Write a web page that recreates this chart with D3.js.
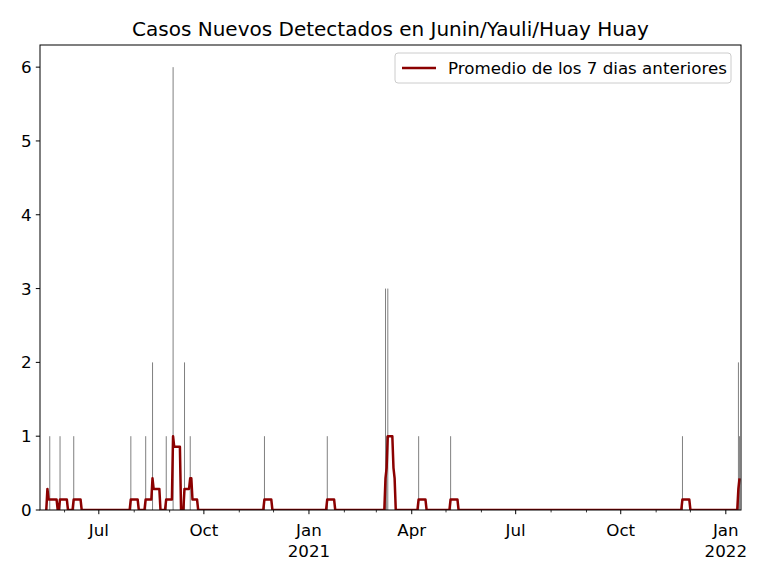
<!DOCTYPE html>
<html>
<head>
<meta charset="utf-8">
<script src="https://cdn.jsdelivr.net/npm/d3@7"></script>
<style>
  html, body { margin: 0; padding: 0; background: #fff; }
  svg { display: block; font-family: "DejaVu Sans", sans-serif; }
</style>
</head>
<body>
<svg id="chart" width="768" height="576"></svg>
<script>
// Daily new cases (only the days with at least one case)
const caseDates = ["2020-05-19","2020-05-28","2020-06-09","2020-07-29","2020-08-11","2020-08-17",
  "2020-08-29","2020-09-04","2020-09-14","2020-09-19","2020-11-23","2021-01-17",
  "2021-03-09","2021-03-10","2021-03-11","2021-04-07","2021-05-05","2021-11-24",
  "2022-01-12","2022-01-13"];
const caseCounts = [1,1,1,1,1,2,1,6,2,1,1,1,3,1,3,1,1,1,2,1];

// 7-day trailing average, listed at the days where the line changes direction
const avgDates = ["2020-05-16","2020-05-17","2020-05-18","2020-05-25","2020-05-26","2020-05-27",
  "2020-05-28","2020-06-03","2020-06-04","2020-06-08","2020-06-09","2020-06-15","2020-06-16",
  "2020-07-28","2020-07-29","2020-08-04","2020-08-05","2020-08-10","2020-08-11","2020-08-16",
  "2020-08-17","2020-08-18","2020-08-23","2020-08-24","2020-08-28","2020-08-29","2020-09-03",
  "2020-09-04","2020-09-05","2020-09-10","2020-09-11","2020-09-13","2020-09-14","2020-09-18",
  "2020-09-19","2020-09-20","2020-09-21","2020-09-25","2020-09-26","2020-11-22","2020-11-23",
  "2020-11-29","2020-11-30","2021-01-16","2021-01-17","2021-01-23","2021-01-24","2021-03-08",
  "2021-03-09","2021-03-10","2021-03-11","2021-03-15","2021-03-16","2021-03-17","2021-03-18",
  "2021-04-06","2021-04-07","2021-04-13","2021-04-14","2021-05-04","2021-05-05","2021-05-11",
  "2021-05-12","2021-11-23","2021-11-24","2021-11-30","2021-12-01","2022-01-11","2022-01-12",
  "2022-01-13"];
const avgValues = [0,0.286,0.143,0.143,0,0,
  0.143,0.143,0,0,0.143,0.143,0,
  0,0.143,0.143,0,0,0.143,0.143,
  0.429,0.286,0.286,0,0,0.143,0.143,
  1,0.857,0.857,0,0,0.286,0.286,
  0.429,0.429,0.143,0.143,0,0,0.143,
  0.143,0,0,0.143,0.143,0,0,
  0.429,0.571,1,1,0.571,0.429,0,
  0,0.143,0.143,0,0,0.143,0.143,
  0,0,0.143,0.143,0,0,0.286,
  0.429];

// Axis labels
const yTicks = [0,1,2,3,4,5,6];
const majorTickDates = ["2020-07-01","2020-10-01","2021-01-01","2021-04-01","2021-07-01","2021-10-01","2022-01-01"];
const majorTickLabels = ["Jul","Oct","Jan","Apr","Jul","Oct","Jan"];
const majorTickYears = ["","","2021","","","","2022"];

const titleText = "Casos Nuevos Detectados en Junin/Yauli/Huay Huay";
const legendText = "Promedio de los 7 dias anteriores";

const parse = d3.utcParse("%Y-%m-%d");
const DAY = 864e5;
const FS = 16.7;      // tick / legend font size
const TITLE_FS = 20;  // title font size

const margin = {left: 40, right: 27, top: 45, bottom: 66};
const W = 768, H = 576;
const plotW = W - margin.left - margin.right;
const plotH = H - margin.top - margin.bottom;

const svg = d3.select("#chart");
const g = svg.append("g").attr("transform", `translate(${margin.left},${margin.top})`);

const x = d3.scaleUtc()
  .domain([new Date(Date.UTC(2020, 4, 10, 12)), new Date(Date.UTC(2022, 0, 14, 7))])
  .range([0, plotW]);
const y = d3.scaleLinear().domain([0, 6.3]).range([plotH, 0]);

const bars = caseDates.map((d, i) => ({date: parse(d), value: caseCounts[i]}));
const avg = avgDates.map((d, i) => ({date: parse(d), value: avgValues[i]}));

// clip to the plot area
svg.append("defs").append("clipPath").attr("id", "clip")
  .append("rect").attr("width", plotW).attr("height", plotH);

const plot = g.append("g").attr("clip-path", "url(#clip)");

// daily bars (0.8 day wide)
plot.selectAll("rect.bar").data(bars).enter().append("rect")
  .attr("class", "bar")
  .attr("x", d => x(new Date(+d.date - 0.4 * DAY)))
  .attr("width", d => Math.max(1, x(new Date(+d.date + 0.4 * DAY)) - x(new Date(+d.date - 0.4 * DAY))))
  .attr("y", d => y(d.value))
  .attr("height", d => y(0) - y(d.value))
  .attr("fill", "#808080");

// rolling average line
plot.append("path")
  .datum(avg)
  .attr("fill", "none")
  .attr("stroke", "#8b0000")
  .attr("stroke-width", 2.5)
  .attr("stroke-linejoin", "round")
  .attr("d", d3.line().x(d => x(d.date)).y(d => y(d.value)));

// frame
g.append("rect").attr("width", plotW).attr("height", plotH)
  .attr("fill", "none").attr("stroke", "#000").attr("stroke-width", 1);

// y axis
const yAxis = g.append("g");
yTicks.forEach(t => {
  yAxis.append("line").attr("x1", -4.2).attr("x2", 0)
    .attr("y1", y(t)).attr("y2", y(t)).attr("stroke", "#000").attr("stroke-width", 1);
  yAxis.append("text").attr("x", -8.4).attr("y", y(t)).attr("dy", "0.36em")
    .attr("text-anchor", "end").attr("font-size", FS + "px").attr("fill", "#000").text(t);
});

// x axis: monthly minor ticks, quarterly labelled ticks
const xAxis = g.append("g").attr("transform", `translate(0,${plotH})`);
const months = d3.utcMonth.range(x.domain()[0], x.domain()[1]);
const majorSet = new Set(majorTickDates);
const fmt = d3.utcFormat("%Y-%m-%d");
months.forEach(m => {
  if (majorSet.has(fmt(m))) return;
  xAxis.append("line").attr("x1", x(m)).attr("x2", x(m)).attr("y1", 0).attr("y2", 2.4)
    .attr("stroke", "#000").attr("stroke-width", 0.8);
});
majorTickDates.forEach((d, i) => {
  const px = x(parse(d));
  xAxis.append("line").attr("x1", px).attr("x2", px).attr("y1", 0).attr("y2", 4.2)
    .attr("stroke", "#000").attr("stroke-width", 1);
  xAxis.append("text").attr("x", px).attr("y", 26).attr("text-anchor", "middle")
    .attr("font-size", FS + "px").attr("fill", "#000").text(majorTickLabels[i]);
  if (majorTickYears[i]) {
    xAxis.append("text").attr("x", px).attr("y", 46.5).attr("text-anchor", "middle")
      .attr("font-size", FS + "px").attr("fill", "#000").text(majorTickYears[i]);
  }
});

// title
svg.append("text").attr("x", margin.left + plotW / 2).attr("y", 36)
  .attr("text-anchor", "middle").attr("font-size", TITLE_FS + "px").attr("fill", "#000")
  .text(titleText);

// legend
const lg = g.append("g").attr("transform", `translate(${plotW - 346},8)`);
lg.append("rect").attr("width", 336).attr("height", 30).attr("rx", 3)
  .attr("fill", "#fff").attr("fill-opacity", 0.8)
  .attr("stroke", "#cccccc").attr("stroke-width", 1);
lg.append("line").attr("x1", 7).attr("x2", 41).attr("y1", 15).attr("y2", 15)
  .attr("stroke", "#8b0000").attr("stroke-width", 2.5);
lg.append("text").attr("x", 53).attr("y", 15).attr("dy", "0.36em")
  .attr("font-size", FS + "px").attr("fill", "#000").text(legendText);
</script>
</body>
</html>
